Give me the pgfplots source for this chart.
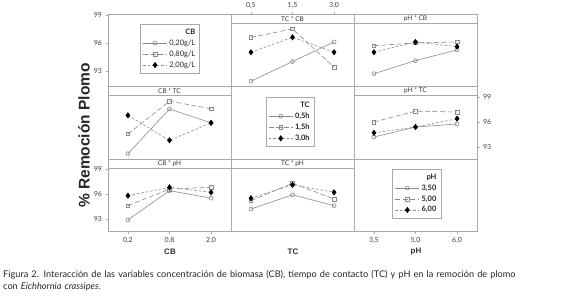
\documentclass[border=0pt]{standalone}
\usepackage{pgfplots}
\pgfplotsset{compat=1.18}
\usepackage{fontspec}
\setmainfont{Lato}
\newfontfamily\arial{Liberation Sans}
\definecolor{ln}{HTML}{8A8A8A}
\definecolor{fr}{HTML}{A8A8A8}
\pgfplotsset{
  panel/.style={scale only axis, width=123pt, anchor=north west,
    xmin=-0.48, xmax=2.48, axis line style={fr, line width=0.5pt},
    xtick=\empty, ytick=\empty, tick style={fr, line width=0.5pt},
    major tick length=2.5pt, tick align=outside,
    ticklabel style={font=\fontsize{7}{8}\selectfont, text=black!75},
    /pgf/number format/assume math mode=true, clip=false},
  rowA/.style={height=72pt, ymin=91.38, ymax=99.1},
  rowB/.style={height=73pt, ymin=91.56, ymax=100.32},
  rowC/.style={height=72pt, ymin=91.56, ymax=100.2},
  s1/.style={ln, line width=0.6pt, mark=o, mark size=2pt, mark options={solid, fill=white, draw=ln}},
  s2/.style={ln, line width=0.6pt, dash pattern=on 5pt off 2.5pt, mark=square, mark size=1.8pt, mark options={solid, fill=white, draw=ln}},
  s3/.style={ln, line width=0.6pt, dash pattern=on 2.5pt off 2pt, mark=diamond*, mark size=2.6pt, mark options={solid, fill=black, draw=black}},
  legend image code/.code={\draw[mark repeat=2,mark phase=2,#1] plot coordinates {(0pt,0pt)(12pt,0pt)(24pt,0pt)};},
  leg/.style={legend cell align=right, legend style={draw=fr, fill=white, line width=0.5pt,
    font=\fontsize{7.5}{9}\selectfont, text=black!85, row sep=0pt, inner sep=2.5pt, at={#1}, anchor=center}},
}
\newcommand\strip[3]{%
  \draw[fr, fill=white, line width=0.5pt] (#1pt,-#2pt) rectangle ++(123pt,-9pt);
  \node[font=\fontsize{6.5}{7}\selectfont, text=black!80, inner sep=0] at ({#1pt+61.5pt},{-#2pt-4.7pt}) {#3};}
\begin{document}
\begin{tikzpicture}
\path[use as bounding box] (0pt,0pt) rectangle (580pt,-297pt);
% ---------- top row ----------
\begin{axis}[panel, rowA, at={(108pt,-14pt)}, ytick={93,96,99}, ytick pos=left, leg={(0.504,0.52)}]
\addlegendimage{empty legend}\addlegendentry{\textbf{CB}}
\addlegendimage{s1}\addlegendentry{0,20g/L}
\addlegendimage{s2}\addlegendentry{0,80g/L}
\addlegendimage{s3}\addlegendentry{2,00g/L}
\end{axis}
\begin{axis}[panel, rowA, at={(231pt,-14pt)}, xtick={0,1,2}, xticklabels={{0,5},{1,5},{3,0}}, xtick pos=right, xticklabel pos=right]
\addplot[s1] coordinates {(0,91.9) (1,94.0) (2,96.1)};
\addplot[s2] coordinates {(0,96.6) (1,97.5) (2,93.4)};
\addplot[s3] coordinates {(0,95.0) (1,96.6) (2,95.0)};
\end{axis}
\begin{axis}[panel, rowA, at={(354pt,-14pt)}]
\addplot[s1] coordinates {(0,92.7) (1,94.1) (2,95.25)};
\addplot[s2] coordinates {(0,95.7) (1,96.0) (2,96.1)};
\addplot[s3] coordinates {(0,95.0) (1,96.1) (2,95.6)};
\end{axis}
% ---------- middle row ----------
\begin{axis}[panel, rowB, at={(108pt,-86pt)}]
\addplot[s1] coordinates {(0,92.2) (1,97.56) (2,95.9)};
\addplot[s2] coordinates {(0,94.56) (1,98.5) (2,97.6)};
\addplot[s3] coordinates {(0,96.8) (1,93.8) (2,95.9)};
\end{axis}
\begin{axis}[panel, rowB, at={(231pt,-86pt)}, leg={(0.48,0.51)}, legend style={font=\fontsize{7.5}{9}\selectfont\bfseries}]
\addlegendimage{empty legend}\addlegendentry{TC}
\addlegendimage{s1}\addlegendentry{0,5h}
\addlegendimage{s2}\addlegendentry{1,5h}
\addlegendimage{s3}\addlegendentry{3,0h}
\end{axis}
\begin{axis}[panel, rowB, at={(354pt,-86pt)}, ytick={93,96,99}, ytick pos=right, yticklabel pos=right]
\addplot[s1] coordinates {(0,94.2) (1,95.4) (2,95.76)};
\addplot[s2] coordinates {(0,96.0) (1,97.3) (2,97.2)};
\addplot[s3] coordinates {(0,94.7) (1,95.4) (2,96.4)};
\end{axis}
% ---------- bottom row ----------
\begin{axis}[panel, rowC, at={(108pt,-159pt)}, ytick={93,96,99}, ytick pos=left, xtick={0,1,2}, xticklabels={{0,2},{0,8},{2,0}}, xtick pos=left]
\addplot[s1] coordinates {(0,92.9) (1,96.4) (2,95.5)};
\addplot[s2] coordinates {(0,94.6) (1,96.6) (2,96.8)};
\addplot[s3] coordinates {(0,95.8) (1,96.8) (2,96.2)};
\end{axis}
\begin{axis}[panel, rowC, at={(231pt,-159pt)}]
\addplot[s1] coordinates {(0,94.2) (1,95.9) (2,94.6)};
\addplot[s2] coordinates {(0,95.2) (1,97.3) (2,95.4)};
\addplot[s3] coordinates {(0,95.5) (1,97.1) (2,96.2)};
\end{axis}
\begin{axis}[panel, rowC, at={(354pt,-159pt)}, xtick={0,1,2}, xticklabels={{3,5},{5,0},{6,0}}, xtick pos=left, leg={(0.51,0.52)}, legend style={font=\fontsize{7.5}{9}\selectfont\bfseries}]
\addlegendimage{empty legend}\addlegendentry{pH}
\addlegendimage{s1}\addlegendentry{3,50}
\addlegendimage{s2}\addlegendentry{5,00}
\addlegendimage{s3}\addlegendentry{6,00}
\end{axis}
% strips
\strip{231}{14}{TC * CB}
\strip{354}{14}{pH * CB}
\strip{108}{86}{CB * TC}
\strip{354}{86}{pH * TC}
\strip{108}{159}{CB * pH}
\strip{231}{159}{TC * pH}
% labels
\node[rotate=90, font=\arial\bfseries\fontsize{15.5}{16}\selectfont, text=black!85] at (84pt,-135.5pt) {\% Remoción Plomo};
\node[font=\arial\bfseries\fontsize{8}{9}\selectfont, text=black!80] at (170pt,-252pt) {CB};
\node[font=\arial\bfseries\fontsize{8}{9}\selectfont, text=black!80] at (293pt,-252pt) {TC};
\node[font=\arial\bfseries\fontsize{8}{9}\selectfont, text=black!80] at (416pt,-252pt) {pH};
\node[anchor=north west, inner sep=0, text width=578pt, align=left, font=\fontsize{9.2}{12.2}\selectfont, text=black!85] at (3pt,-270pt)
{Figura 2. Interacción de las variables concentración de biomasa (CB), tiempo de contacto (TC) y pH en la remoción de plomo\\ con \textit{Eichhornia crassipes}.};
\end{tikzpicture}
\end{document}
